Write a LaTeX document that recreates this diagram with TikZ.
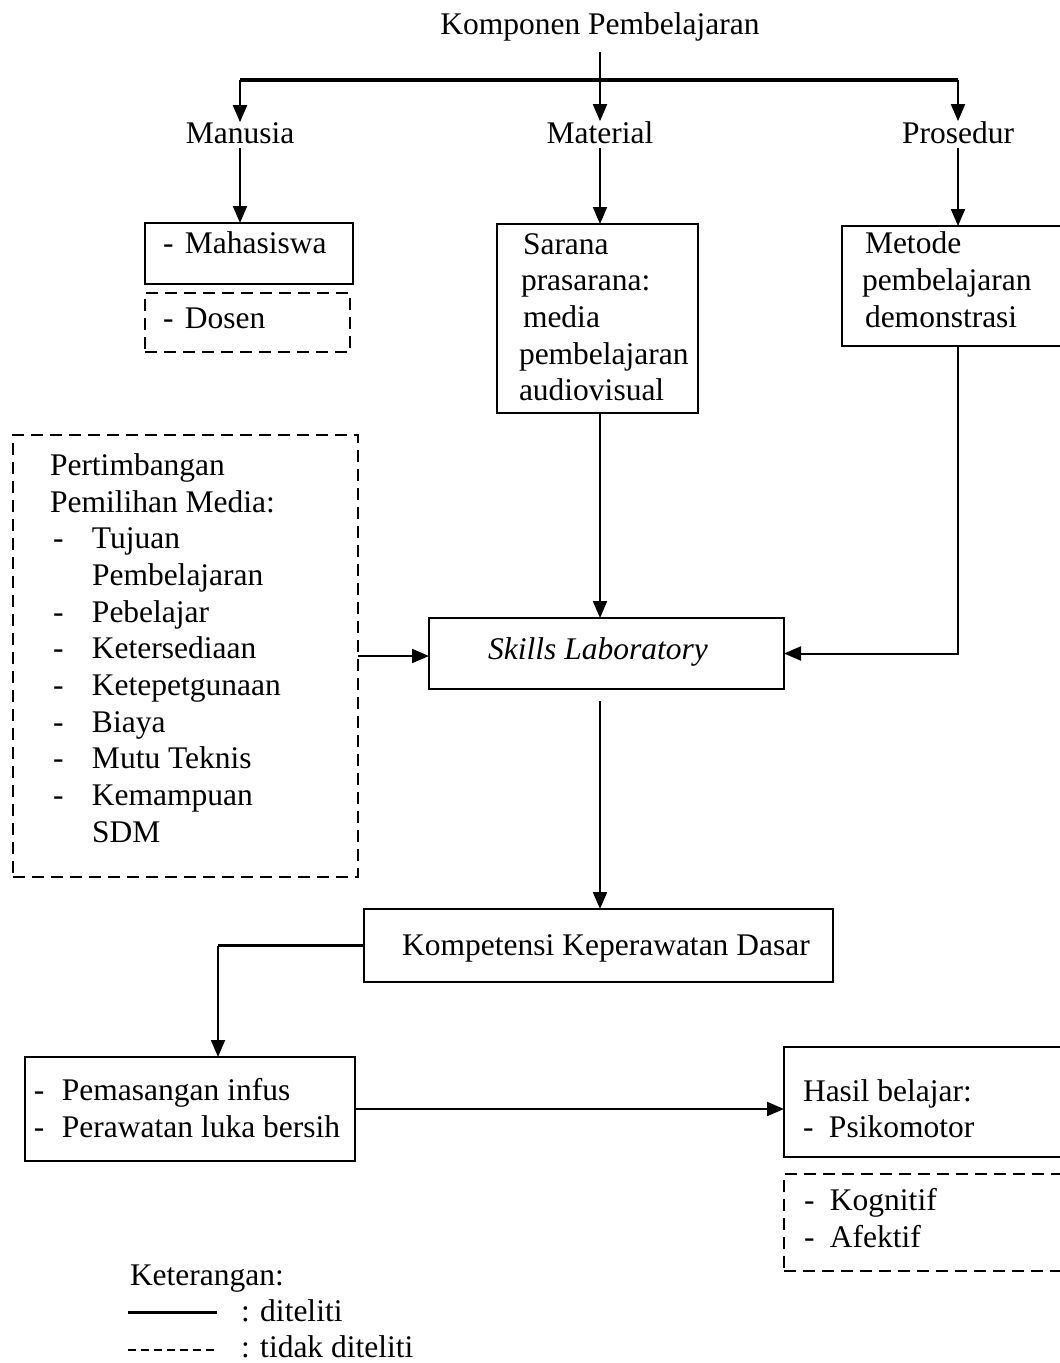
\documentclass[tikz,border=0pt]{standalone}
\usepackage{fontspec}
\setmainfont{Liberation Serif}
\usetikzlibrary{arrows.meta}
\newcommand{\myda}[1]{\makebox[#1][l]{-}}
\begin{document}
\begin{tikzpicture}[x=1pt,y=-1pt,
  every node/.style={inner sep=0pt, outer sep=0pt, font=\fontsize{31.5}{36.7}\selectfont},
  txt/.style={anchor=base west},
  ctxt/.style={anchor=base},
  sbox/.style={draw, line width=2.6pt, anchor=north west},
  dbox/.style={draw, line width=2.6pt, dash pattern=on 12pt off 7pt, anchor=north west},
  conn/.style={line width=2pt},
  arr/.style={line width=2pt, -{Triangle[length=17pt,width=14pt]}},
  busline/.style={line width=4pt},
]
\useasboundingbox (0,0) rectangle (1060,1363);
\clip (0,0) rectangle (1060,1363);

% columns
\coordinate (colL) at (240,0);
\coordinate (colM) at (600,0);
\coordinate (colR) at (958,0);
\coordinate (colK) at (218,0);

% boxes
\node[sbox, minimum width=208pt, minimum height=61pt] (mah) at (145,223) {};
\node[dbox, minimum width=205pt, minimum height=59pt] (dos) at (145,293) {};
\node[sbox, minimum width=201pt, minimum height=189pt] (sar) at (497,224) {};
\node[sbox, minimum width=300pt, minimum height=120pt] (met) at (842,226) {};
\node[dbox, minimum width=345pt, minimum height=442pt] (pert) at (13,435) {};
\node[sbox, minimum width=355pt, minimum height=71pt] (skl) at (429,618) {};
\node[sbox, minimum width=469pt, minimum height=73pt] (kom) at (364,909) {};
\node[sbox, minimum width=330pt, minimum height=104pt] (pem) at (25,1057) {};
\node[sbox, minimum width=300pt, minimum height=110pt] (has) at (784,1047) {};
\node[dbox, minimum width=300pt, minimum height=97pt] (kog) at (784,1174) {};

% top labels
\node[ctxt] (komp) at (600,34) {Komponen Pembelajaran};
\node[ctxt] (man) at (240,143) {Manusia};
\node[ctxt] (mat) at (600,143) {Material};
\node[ctxt] (pros) at (958,143) {Prosedur};

% box texts
\node[txt] (tmah) at (163,253) {\myda{22pt}Mahasiswa};
\node[txt] (tdos) at (163,328) {\myda{22pt}Dosen};

\node[txt] (sar1) at (523,254) {Sarana};
\node[txt] (sar2) at (521,290) {prasarana:};
\node[txt] (sar3) at (523,327) {media};
\node[txt] (sar4) at (519,364) {pembelajaran};
\node[txt] (sar5) at (519,400) {audiovisual};

\node[txt] (met1) at (865,253) {Metode};
\node[txt] (met2) at (862,290) {pembelajaran};
\node[txt] (met3) at (865,327) {demonstrasi};

\node[txt] (pt1) at (50,475) {Pertimbangan};
\node[txt] (pt2) at (50,512) {Pemilihan Media:};
\node[txt] (pt3) at (53,548) {\myda{39pt}Tujuan};
\node[txt] (pt4) at (92,585) {Pembelajaran};
\node[txt] (pt5) at (53,622) {\myda{39pt}Pebelajar};
\node[txt] (pt6) at (53,658) {\myda{39pt}Ketersediaan};
\node[txt] (pt7) at (53,695) {\myda{39pt}Ketepetgunaan};
\node[txt] (pt8) at (53,732) {\myda{39pt}Biaya};
\node[txt] (pt9) at (53,768) {\myda{39pt}Mutu Teknis};
\node[txt] (pt10) at (53,805) {\myda{39pt}Kemampuan};
\node[txt] (pt11) at (92,842) {SDM};

\node[ctxt, font=\fontsize{31.5}{36.7}\selectfont\itshape] (tskl) at (598,659) {Skills Laboratory};
\node[ctxt] (tkom) at (606,955) {Kompetensi Keperawatan Dasar};

\node[txt] (pem1) at (34,1100) {\myda{28pt}Pemasangan infus};
\node[txt] (pem2) at (34,1137) {\myda{28pt}Perawatan luka bersih};

\node[txt] (has1) at (803,1101) {Hasil belajar:};
\node[txt] (has2) at (803,1137) {\myda{26pt}Psikomotor};
\node[txt] (kog1) at (804,1210) {\myda{26pt}Kognitif};
\node[txt] (kog2) at (804,1247) {\myda{26pt}Afektif};

% connectors top
\coordinate (busM) at (600,80);
\coordinate (busL) at (240,80);
\coordinate (busR) at (958,80);
\draw[conn] (komp.south) ++(0,11) -- (busM);
\draw[busline] (busL) -- (busR);
\draw[arr] (busL) -- (man.north);
\draw[arr] (busM) -- (mat.north);
\draw[arr] (busR) -- (pros.north);

\draw[arr, shorten <=5pt] (man.south) -- (man.south |- mah.north);
\draw[arr, shorten <=5pt] (mat.south) -- (mat.south |- sar.north);
\draw[arr, shorten <=5pt] (pros.south) -- (pros.south |- met.north);

% to skills lab
\draw[arr] (sar.south -| colM) -- (skl.north -| colM);
\draw[arr] (pert.east) -- (pert.east -| skl.west);
\draw[arr] (met.south -| colR) -- (skl.east -| colR) -- (skl.east);

% skills to kompetensi
\draw[arr] (skl.south -| colM) ++(0,12) -- (kom.north -| colM);

% kompetensi to pemasangan
\draw[line width=3.5pt] (kom.west) -- (kom.west -| colK);
\draw[arr] (kom.west -| colK) -- (pem.north -| colK);

% pemasangan to hasil
\draw[arr] (pem.east) -- (pem.east -| has.west);

% legend
\node[txt] (ket) at (130,1285) {Keterangan:};
\coordinate (lsa) at (128,1312);
\coordinate (lsb) at (217,1312);
\coordinate (lda) at (128,1350);
\coordinate (ldb) at (217,1350);
\draw[line width=3pt] (lsa) -- (lsb);
\draw[line width=1.5pt, dash pattern=on 8pt off 5pt] (lda) -- (ldb);
\node[txt] (ket1) at (241,1321) {: diteliti};
\node[txt] (ket2) at (241,1357) {: tidak diteliti};
\end{tikzpicture}
\end{document}
